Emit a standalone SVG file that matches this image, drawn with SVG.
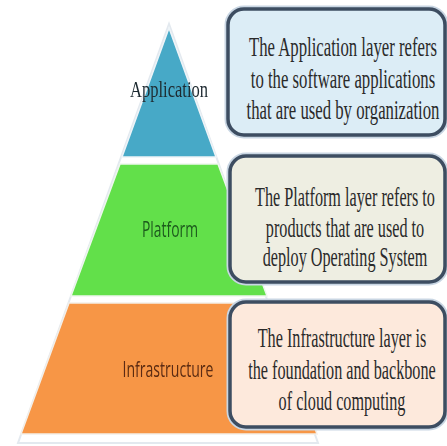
<svg xmlns="http://www.w3.org/2000/svg" width="447" height="446" viewBox="0 0 447 446">
  <defs>
    <style>
      .box { stroke: #3d4d61; stroke-width: 3.5; }
      .halo { fill: none; stroke: #c9d6e3; stroke-width: 7; }
      .desc { font-family: "Liberation Serif", "Times New Roman", serif; font-size: 27px; fill: #2a2a2a; text-anchor: middle; }
      .lbl-serif { font-family: "Liberation Serif", "Times New Roman", serif; font-size: 23px; fill: #1e2a30; text-anchor: middle; }
      .lbl-sans { font-family: "Open Sans", "Noto Sans", sans-serif; font-size: 21px; text-anchor: middle; }
    </style>
    <filter id="soft" x="-10%" y="-10%" width="120%" height="120%">
      <feGaussianBlur stdDeviation="0.4"/>
    </filter>
  </defs>

  <rect width="447" height="446" fill="#ffffff"/>

  <!-- faint outline behind the pyramid -->
  <polygon points="169,24 18,443 318,443" fill="none" stroke="#e3e9ef" stroke-width="2"/>

  <!-- pyramid layers -->
  <g id="layer-application">
    <polygon points="169,28 122,157 216,157" fill="#47a9c7" stroke="#eef4f8" stroke-width="1.5"/>
    <text class="lbl-serif" x="169" y="97" textLength="78" lengthAdjust="spacingAndGlyphs" filter="url(#soft)">Application</text>
  </g>

  <g id="layer-platform">
    <polygon points="120,164 218,164 267,296 71,296" fill="#62e04a" stroke="#eef6ee" stroke-width="1.5"/>
    <text class="lbl-sans" x="170" y="237" fill="#1d5a1d" textLength="56" lengthAdjust="spacingAndGlyphs" filter="url(#soft)">Platform</text>
  </g>

  <g id="layer-infrastructure">
    <polygon points="69,303 269,303 317,434 21,434" fill="#f79646" stroke="#f3efe9" stroke-width="1.5"/>
    <text class="lbl-sans" x="168" y="377" fill="#5b2b12" textLength="91" lengthAdjust="spacingAndGlyphs" filter="url(#soft)">Infrastructure</text>
  </g>

  <!-- description boxes; body text is set condensed by a horizontal scale -->
  <g id="desc-application">
    <rect class="halo" x="228" y="9" width="217" height="126" rx="16"/>
    <rect class="box" x="228" y="9" width="217" height="126" rx="16" fill="#dcedf6"/>
    <text class="desc" transform="translate(343 56) scale(0.62 1)">The Application layer refers</text>
    <text class="desc" transform="translate(343 88) scale(0.62 1)">to the software applications</text>
    <text class="desc" transform="translate(343 119) scale(0.62 1)">that are used by organization</text>
  </g>

  <g id="desc-platform">
    <rect class="halo" x="230" y="156" width="215" height="126" rx="16"/>
    <rect class="box" x="230" y="156" width="215" height="126" rx="16" fill="#eeeee2"/>
    <text class="desc" transform="translate(345 206) scale(0.6 1)">The Platform layer refers to</text>
    <text class="desc" transform="translate(345 237) scale(0.6 1)">products that are used to</text>
    <text class="desc" transform="translate(345 266) scale(0.6 1)">deploy Operating System</text>
  </g>

  <g id="desc-infrastructure">
    <rect class="halo" x="230" y="302" width="215" height="125" rx="16"/>
    <rect class="box" x="230" y="302" width="215" height="125" rx="16" fill="#fde9dc"/>
    <text class="desc" transform="translate(342 347) scale(0.6 1)">The Infrastructure layer is</text>
    <text class="desc" transform="translate(342 379) scale(0.6 1)">the foundation and backbone</text>
    <text class="desc" transform="translate(342 410) scale(0.6 1)">of cloud computing</text>
  </g>

  <!-- no connectors in this figure -->
  <g id="connectors"/>
</svg>
